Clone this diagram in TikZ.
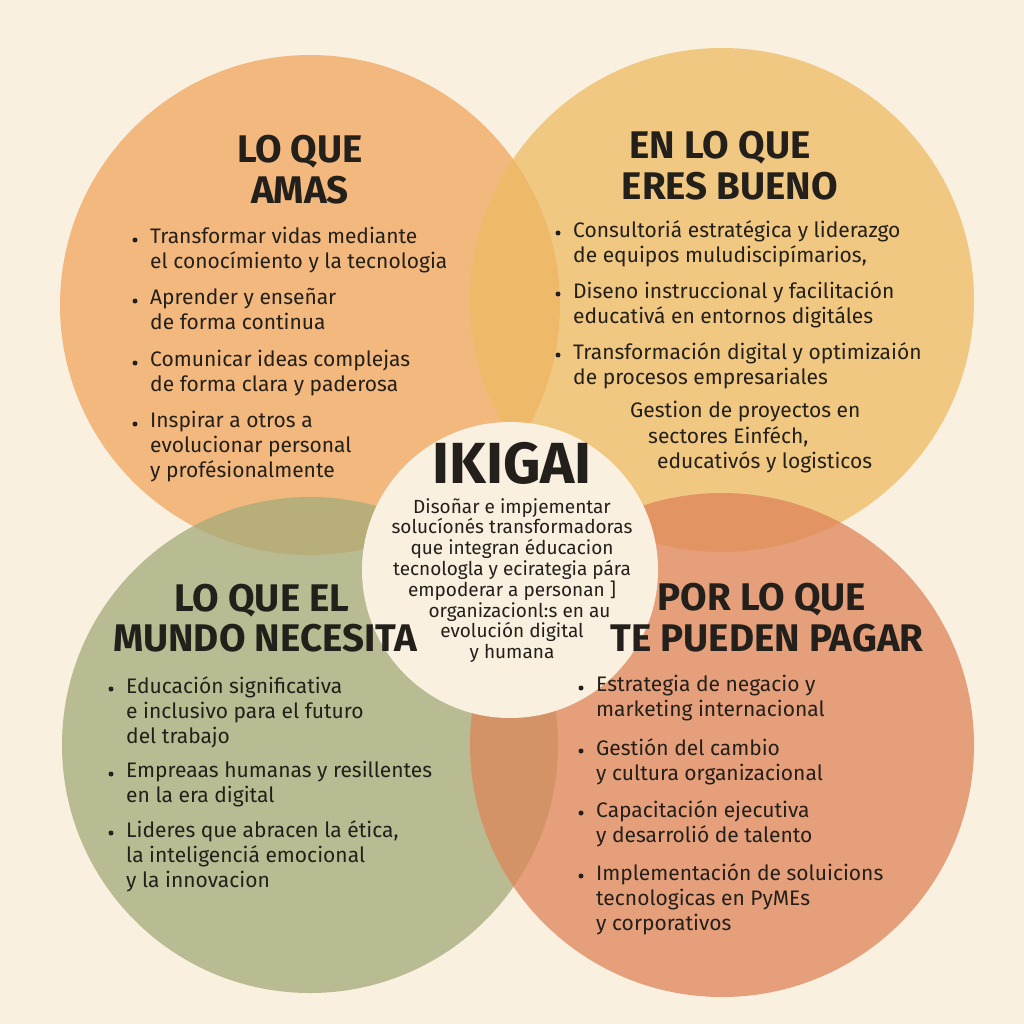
\documentclass[tikz,border=0pt]{standalone}
\usepackage{fontspec}
\setmainfont{Fira Sans}
\definecolor{bgcol}{HTML}{FAF0E0}
\definecolor{amas}{HTML}{F0A55C}
\definecolor{bueno}{HTML}{EDBB62}
\definecolor{mundo}{HTML}{A3AB78}
\definecolor{pagar}{HTML}{DE8458}
\definecolor{txt}{HTML}{231F1A}
\tikzset{
  petal/.style={opacity=0.74},
  ttl/.style={font=\fontsize{38.5}{40}\selectfont\bfseries, text=txt, inner sep=0pt},
  item/.style={font=\fontsize{21}{25}\selectfont, text=txt, align=left, anchor=north west, inner sep=0pt},
  dot/.style={fill=txt, circle, inner sep=0pt, minimum size=5pt}
}
\newcommand\bitem[4]{\node[dot] at (#1-15,#2+13) {}; \node[item] (#3) at (#1,#2) {#4};}
\begin{document}
\begin{tikzpicture}[x=1pt,y=-1pt]
  \fill[bgcol] (0,0) rectangle (1024,1024);
  \useasboundingbox (0,0) rectangle (1024,1024);
  % four circles
  \fill[amas,petal]  (310,305) circle (250);
  \fill[bueno,petal] (722,300) circle (252);
  \fill[mundo,petal] (310,745) circle (248);
  \fill[pagar,petal] (722,745) circle (252);
  \fill[bgcol] (510,570) circle (148);
  % titles
  \node[ttl] (t1) at (300,152) {LO QUE};
  \node[ttl] (t1b) at (300,190) {AMAS};
  \node[ttl] (t2) at (720,148) {EN LO QUE};
  \node[ttl] (t2b) at (730,186) {ERES BUENO};
  \node[ttl] (t3) at (262,601) {LO QUE EL};
  \node[ttl] (t3b) at (265,638) {MUNDO NECESITA};
  \node[ttl] (t4) at (762,600) {POR LO QUE};
  \node[ttl] (t4b) at (767,638) {TE PUEDEN PAGAR};
  % lo que amas
  \bitem{150}{227}{a1}{Transformar vidas mediante\\el conocímiento y la tecnologia}
  \bitem{150}{288}{a2}{Aprender y enseñar\\de forma continua}
  \bitem{150}{350}{a3}{Comunicar ideas complejas\\de forma clara y paderosa}
  \bitem{150}{411}{a4}{Inspirar a otros a\\evolucionar personal\\y profésionalmente}
  % en lo que eres bueno
  \bitem{573}{220}{b1}{Consultoriá estratégica y liderazgo\\de equipos muludiscipímarios,}
  \bitem{573}{281}{b2}{Diseno instruccional y facilitación\\educativá en entornos digitáles}
  \bitem{573}{342}{b3}{Transformación digital y optimizaión\\de procesos empresariales}
  \node[item] (b4) at (630,401) {Gestion de proyectos en};
  \node[item] (b4b) at (648,426) {sectores Einféch,};
  \node[item] (b4c) at (657,451) {educativós y logisticos};
  % lo que el mundo necesita
  \bitem{126}{676}{c1}{Educación significativa\\e inclusivo para el futuro\\del trabajo}
  \bitem{126}{761}{c2}{Empreaas humanas y resillentes\\en la era digital}
  \bitem{126}{820}{c3}{Lideres que abracen la ética,\\la inteligenciá emocional\\y la innovacion}
  % por lo que te pueden pagar
  \bitem{596}{675}{d1}{Estrategia de negacio y\\marketing internacional}
  \bitem{596}{738}{d2}{Gestión del cambio\\y cultura organizacional}
  \bitem{596}{800}{d3}{Capacitación ejecutiva\\y desarrolió de talento}
  \bitem{596}{863}{d4}{Implementación de soluicions\\tecnologicas en PyMEs\\y corporativos}
  % centre
  \node[font=\fontsize{58}{60}\selectfont\bfseries, text=txt, inner sep=0pt] (ikigai) at (512,463) {IKIGAI};
  \node[font=\fontsize{19}{20.8}\selectfont, text=txt, align=center, anchor=north, inner sep=0pt] (mision) at (512,498)
    {Disoñar e impjementar\\solucíonés transformadoras\\que integran éducacion\\tecnologla y ecirategia pára\\empoderar a personan ]\\\ \ \ organizacionl:s en au\\evolución digital\\y humana};
\end{tikzpicture}
\end{document}
